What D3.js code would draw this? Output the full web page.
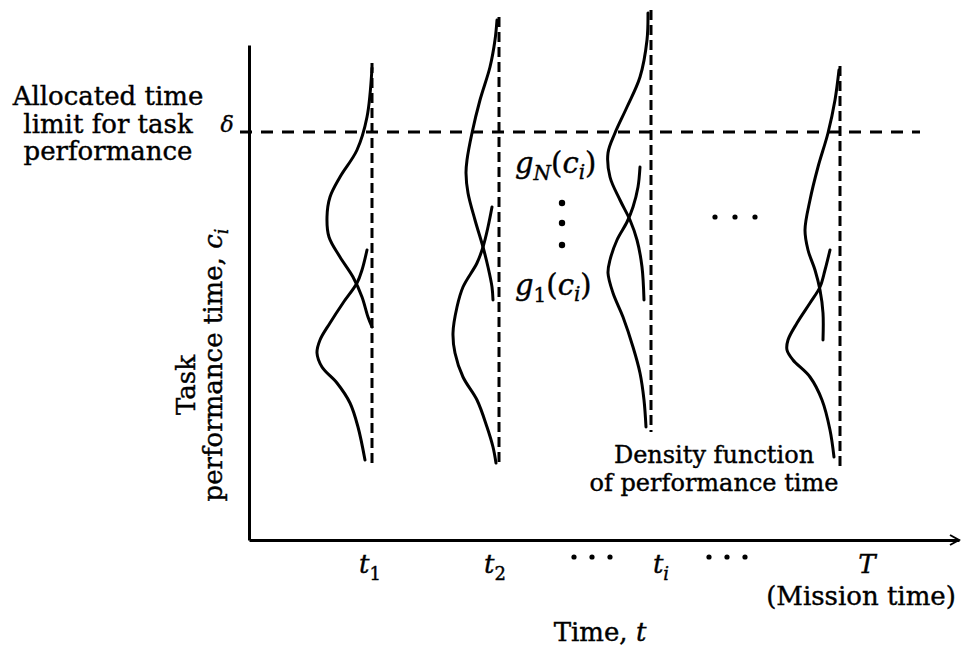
<!DOCTYPE html>
<html>
<head>
<meta charset="utf-8">
<script src="https://cdn.jsdelivr.net/npm/d3@7"></script>
<style>
  body { margin: 0; background: #fff; }
  svg text { font-family: "DejaVu Serif", serif; fill: #000; stroke: #000; stroke-width: 0.4px; }
</style>
</head>
<body>
<script>
// Time points along the mission (x) and the names written under them
const times = [12.3, 25.0, 40.2, 59.1];
const timeNames = [["t", "1"], ["t", "2"], ["t", "i"], ["T", ""]];
const ellipsisTimes = [34.3, 47.8];

// Allocated limit on the performance-time axis
const deltaLimit = 40.8;

// Extent of each vertical dashed baseline (performance time)
const dashTop = [47.7, 52.3, 53.0, 47.4];
const dashBottom = [7.4, 7.3, 10.8, 7.0];

// Density curves: [performance time c, density]
const upperCurves = [
  [[47.2,0.0],[42.3,0.5],[39.0,1.5],[36.3,3.2],[34.3,4.2],[32.3,4.5],[30.3,4.3],[28.3,3.2],[26.3,1.9],[24.3,1.0],[22.3,0.4],[21.3,0.0]],
  [[52.0,0.2],[50.0,0.4],[47.3,0.9],[44.0,1.9],[40.7,2.7],[38.0,3.2],[36.7,3.3],[34.7,3.1],[32.0,2.4],[29.3,1.6],[27.3,1.1],[25.3,0.7],[24.0,0.6]],
  [[52.7,0.3],[50.0,0.4],[46.3,1.1],[43.3,2.4],[40.7,3.6],[38.7,4.3],[36.3,4.1],[34.0,3.1],[32.0,2.1],[30.0,1.4],[27.3,0.9],[24.0,0.7]],
  [[47.0,0.1],[44.0,0.5],[40.7,1.2],[37.3,2.2],[34.0,3.0],[31.0,3.5],[29.0,3.2],[27.0,2.5],[25.0,2.0],[22.7,1.7],[20.0,1.7]]
];
const lowerCurves = [
  [[29.0,0.5],[27.0,1.0],[25.7,1.5],[23.7,2.9],[21.7,4.2],[20.0,5.2],[18.7,5.5],[17.3,5.0],[15.7,3.5],[13.7,2.2],[11.3,1.4],[8.0,0.7]],
  [[33.3,0.7],[31.3,1.1],[29.3,1.6],[27.7,2.2],[25.3,3.6],[23.3,4.2],[20.7,4.6],[18.7,4.4],[16.3,3.6],[14.0,2.2],[11.3,1.2],[9.3,0.6],[7.7,0.3]],
  [[37.3,1.1],[35.3,1.3],[33.3,1.8],[31.8,2.4],[30.0,3.4],[28.0,4.1],[26.7,4.3],[24.7,3.8],[22.3,2.8],[19.3,1.8],[16.7,1.1],[14.0,0.7],[11.3,0.5]],
  [[29.0,1.0],[27.0,1.5],[25.3,2.0],[23.7,3.0],[21.7,4.3],[20.0,5.2],[19.0,5.3],[18.0,4.7],[16.3,3.0],[14.0,1.8],[11.0,1.0],[8.3,0.6]]
];

let width = 961, height = 650;

let svg = d3.select("body")
  .append("svg")
    .attr("width", width)
    .attr("height", height);

let x = d3.scaleLinear().domain([0, 71]).range([249, 959]);
let y = d3.scaleLinear().domain([0, 49.5]).range([540, 45]);
let dens = d3.scaleLinear().domain([0, 1]).range([0, 10]);

// Axes: bare lines, no ticks
svg.append("g")
  .attr("transform", "translate(0," + y(0) + ")")
  .call(d3.axisBottom(x).tickValues([]).tickSizeOuter(0))
  .select(".domain").attr("stroke-width", 3);
svg.append("g")
  .attr("transform", "translate(" + x(0) + ",0)")
  .call(d3.axisLeft(y).tickValues([]).tickSizeOuter(0))
  .select(".domain").attr("stroke-width", 3);

// arrow head at the end of the time axis
let xe = x.range()[1];
svg.append("path")
  .attr("d", "M" + (xe - 9) + "," + (y(0) - 5) + "L" + xe + "," + y(0) + "L" + (xe - 9) + "," + (y(0) + 5))
  .attr("fill", "none").attr("stroke", "#000").attr("stroke-width", 2);

// Allocated time limit
svg.append("line")
  .attr("x1", x(-0.9)).attr("x2", x(67.1))
  .attr("y1", y(deltaLimit)).attr("y2", y(deltaLimit))
  .attr("stroke", "#000").attr("stroke-width", 3)
  .attr("stroke-dasharray", "12,9");

// Vertical dashed baselines
svg.selectAll("line.base")
  .data(times).enter()
  .append("line")
    .attr("class", "base")
    .attr("x1", (d) => x(d)).attr("x2", (d) => x(d))
    .attr("y1", (d, i) => y(dashTop[i]))
    .attr("y2", (d, i) => y(dashBottom[i]))
    .attr("stroke", "#000").attr("stroke-width", 3)
    .attr("stroke-dasharray", "10,5");

// Density curves hanging to the left of each baseline
function drawCurves(curves) {
  curves.forEach((pts, i) => {
    let line = d3.line()
      .x((d) => x(times[i]) - dens(d[1]))
      .y((d) => y(d[0]))
      .curve(d3.curveCatmullRom.alpha(0.5));
    svg.append("path")
      .attr("d", line(pts))
      .attr("fill", "none")
      .attr("stroke", "#000")
      .attr("stroke-width", 3)
      .attr("stroke-linecap", "round");
  });
}
drawCurves(upperCurves);
drawCurves(lowerCurves);

// Time labels below the axis
let labelDx = [-2, -4, 10, 27];
times.forEach((t, i) => {
  let txt = svg.append("text")
    .attr("x", x(t) + labelDx[i])
    .attr("y", 573)
    .attr("text-anchor", "middle")
    .style("font-size", "26px");
  txt.append("tspan").style("font-style", "italic").text(timeNames[i][0]);
  if (timeNames[i][1]) {
    txt.append("tspan").attr("dy", 7).style("font-size", "18px")
      .style("font-style", timeNames[i][1] === "i" ? "italic" : "normal")
      .text(timeNames[i][1]);
  }
});

// ellipses between time labels
ellipsisTimes.forEach((t) => {
  [-18, 0, 18].forEach((o) => {
    svg.append("circle").attr("cx", x(t) + o).attr("cy", 557).attr("r", 2.6).attr("fill", "#000");
  });
});
[-20, 0, 20].forEach((o) => {
  svg.append("circle").attr("cx", x(48.6) + o).attr("cy", y(32.3)).attr("r", 2.6).attr("fill", "#000");
});

// vertical dots between g_N and g_1
[33.7, 31.7, 29.5].forEach((c) => {
  svg.append("circle").attr("cx", 562).attr("cy", y(c)).attr("r", 3.2).attr("fill", "#000");
});

// g labels
function gLabel(sub, yy) {
  let t = svg.append("text").attr("x", 515).attr("y", yy).style("font-size", "29px");
  t.append("tspan").style("font-style", "italic").text("g");
  t.append("tspan").attr("dy", 7).style("font-style", sub === "N" ? "italic" : "normal")
    .style("font-size", "20px").text(sub);
  t.append("tspan").attr("dy", -7).text("(");
  t.append("tspan").style("font-style", "italic").text("c");
  t.append("tspan").attr("dy", 6).style("font-style", "italic").style("font-size", "20px").text("i");
  t.append("tspan").attr("dy", -6).text(")");
}
gLabel("N", 173);
gLabel("1", 295);

// Left annotation
["Allocated time", "limit for task", "performance"].forEach((s, i) => {
  svg.append("text")
    .attr("x", 108).attr("y", 105 + i * 27.5)
    .attr("text-anchor", "middle")
    .style("font-size", "26px")
    .text(s);
});
svg.append("text")
  .attr("x", 227).attr("y", 132)
  .attr("text-anchor", "middle")
  .style("font-size", "22px").style("font-style", "italic")
  .text("δ");

// Y-axis label
svg.append("text")
  .attr("transform", "translate(195,385) rotate(-90)")
  .attr("text-anchor", "middle")
  .style("font-size", "26px")
  .text("Task");
let yl = svg.append("text")
  .attr("transform", "translate(222,365) rotate(-90)")
  .attr("text-anchor", "middle")
  .style("font-size", "26px");
yl.append("tspan").text("performance time, ");
yl.append("tspan").style("font-style", "italic").text("c");
yl.append("tspan").attr("dy", 6).style("font-size", "18px").style("font-style", "italic").text("i");

// Density note
["Density function", "of performance time"].forEach((s, i) => {
  svg.append("text")
    .attr("x", 714).attr("y", 463 + i * 28)
    .attr("text-anchor", "middle")
    .style("font-size", "24px")
    .text(s);
});

// Mission time and axis title
svg.append("text")
  .attr("x", 861).attr("y", 605)
  .attr("text-anchor", "middle")
  .style("font-size", "26px")
  .text("(Mission time)");
let xt = svg.append("text")
  .attr("x", 600).attr("y", 641)
  .attr("text-anchor", "middle")
  .style("font-size", "26px");
xt.append("tspan").text("Time, ");
xt.append("tspan").style("font-style", "italic").text("t");
</script>
</body>
</html>
